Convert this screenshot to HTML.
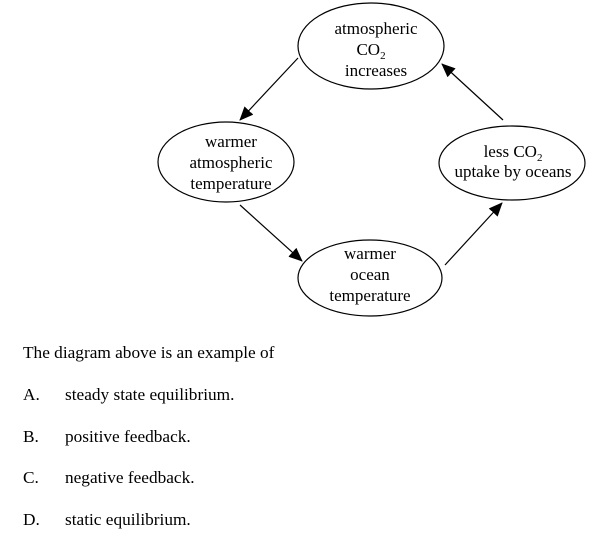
<!DOCTYPE html>
<html><head><style>
body{margin:0;background:#fff;width:607px;height:540px;overflow:hidden;position:relative;font-family:"Liberation Serif",serif;font-size:17.3px;color:#000}
.t{position:absolute;white-space:nowrap;line-height:18px}
</style></head><body>
<svg width="607" height="330" style="position:absolute;left:0;top:0" font-family="Liberation Serif, serif" font-size="17">
<defs><marker id="a" markerWidth="14" markerHeight="12" refX="13" refY="6" orient="auto" markerUnits="userSpaceOnUse"><path d="M0,0 L14,6 L0,12 z"/></marker></defs>
<g fill="none" stroke="#000" stroke-width="1.2">
<ellipse cx="371" cy="46" rx="73" ry="43"/>
<ellipse cx="226" cy="162" rx="68" ry="40"/>
<ellipse cx="512" cy="163" rx="73" ry="37"/>
<ellipse cx="370" cy="278" rx="72" ry="38"/>
<line x1="298" y1="58" x2="240" y2="120" marker-end="url(#a)"/>
<line x1="240" y1="205" x2="302" y2="261" marker-end="url(#a)"/>
<line x1="445" y1="265" x2="502" y2="203" marker-end="url(#a)"/>
<line x1="503" y1="120" x2="442" y2="64" marker-end="url(#a)"/>
</g>
<g text-anchor="middle">
<text x="376" y="34">atmospheric</text>
<text x="371" y="55">CO<tspan font-size="11" dy="4">2</tspan></text>
<text x="376" y="76">increases</text>
<text x="231" y="147">warmer</text>
<text x="231" y="168">atmospheric</text>
<text x="231" y="189">temperature</text>
<text x="513" y="157">less CO<tspan font-size="11" dy="4">2</tspan></text>
<text x="513" y="177">uptake by oceans</text>
<text x="370" y="259">warmer</text>
<text x="370" y="280">ocean</text>
<text x="370" y="301">temperature</text>
</g>
</svg>
<div class="t" style="left:23px;top:344px">The diagram above is an example of</div>
<div class="t" style="left:23px;top:386px">A.</div><div class="t" style="left:65px;top:386px">steady state equilibrium.</div>
<div class="t" style="left:23px;top:428px">B.</div><div class="t" style="left:65px;top:428px">positive feedback.</div>
<div class="t" style="left:23px;top:469px">C.</div><div class="t" style="left:65px;top:469px">negative feedback.</div>
<div class="t" style="left:23px;top:511px">D.</div><div class="t" style="left:65px;top:511px">static equilibrium.</div>
</body></html>
